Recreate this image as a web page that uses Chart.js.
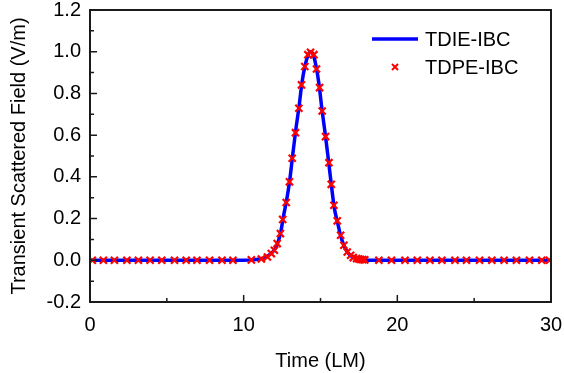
<!DOCTYPE html>
<html>
<head>
<meta charset="utf-8">
<script src="https://cdn.jsdelivr.net/npm/chart.js@4/dist/chart.umd.min.js"></script>
<style>
  html, body { margin: 0; padding: 0; background: #fff; }
  #wrap { width: 564px; height: 373px; position: relative; }
</style>
</head>
<body>
<div id="wrap"><canvas id="myChart"></canvas></div>
<script>
// Datos
const seriesNames = ["TDIE-IBC", "TDPE-IBC"];

// TDIE-IBC (linea continua)
const lineTime = [0, 10.0, 10.6, 11.0, 11.4, 11.8, 12.0, 12.2, 12.4, 12.6, 12.8, 13.0, 13.2, 13.4, 13.6, 13.8,
  14.0, 14.2, 14.35, 14.5, 14.7, 14.9, 15.1, 15.3, 15.5, 15.7, 15.9, 16.1, 16.3, 16.5, 16.7, 16.9,
  17.2, 17.6, 18.0, 30];
const lineField = [0, 0, 0.002, 0.006, 0.014, 0.034, 0.05, 0.08, 0.13, 0.215, 0.29, 0.385, 0.51, 0.63, 0.735, 0.855,
  0.935, 0.985, 1.0, 0.99, 0.935, 0.845, 0.72, 0.61, 0.49, 0.365, 0.25, 0.185, 0.12, 0.075, 0.045, 0.027,
  0.012, 0.004, 0, 0];

// TDPE-IBC (marcadores x)
const markTime = [0.15, 0.87, 1.59, 2.4, 3.15, 3.91, 4.67, 5.5, 6.26, 6.96, 7.78, 8.59, 9.3, 10.5, 11.15,
  11.55, 11.8, 12.0, 12.18, 12.39, 12.54, 12.77, 12.98, 13.16, 13.37, 13.59, 13.76, 13.98, 14.18, 14.35,
  14.57, 14.74, 14.94, 15.11, 15.33, 15.55, 15.7, 15.87, 16.09, 16.31, 16.52, 16.74, 16.96, 17.13, 17.35,
  17.5, 17.62, 17.75, 17.88, 18.8, 19.62, 20.5, 21.3, 22.12, 22.9, 23.75, 24.5, 25.35, 26.15, 26.95,
  27.75, 28.6, 29.4, 29.9];
const markField = [0, 0, 0, 0, 0, 0, 0, 0, 0, 0, 0, 0, 0, 0.002, 0.006,
  0.016, 0.032, 0.048, 0.08, 0.128, 0.196, 0.277, 0.376, 0.489, 0.612, 0.729, 0.841, 0.929, 0.986, 0.997,
  0.986, 0.917, 0.828, 0.716, 0.593, 0.468, 0.364, 0.264, 0.189, 0.12, 0.072, 0.04, 0.024, 0.013, 0.008,
  0.006, 0.004, 0.003, 0.002, 0, 0, 0, 0, 0, 0, 0, 0, 0, 0, 0,
  0, 0, 0, 0];

// Marcas de los ejes
const xTicks = [0, 10, 20, 30];
const xMinor = [5, 15, 25];
const yTicks = [-0.2, 0, 0.2, 0.4, 0.6, 0.8, 1.0, 1.2];
const yMinor = [-0.1, 0.1, 0.3, 0.5, 0.7, 0.9, 1.1];

const FONT = "'Liberation Sans', Arial, sans-serif";
const AXIS = '#1a1a1a';

function toPoints(xs, ys) {
  return xs.map((x, i) => ({ x: x, y: ys[i] }));
}

// Marco y marcas hacia dentro
const framePlugin = {
  id: 'frame',
  afterDraw(chart) {
    const { ctx, chartArea: a, scales } = chart;
    ctx.save();
    ctx.strokeStyle = AXIS;
    ctx.lineWidth = 2;
    ctx.strokeRect(a.left, a.top, a.right - a.left, a.bottom - a.top);
    ctx.lineWidth = 1.5;
    ctx.beginPath();
    xTicks.forEach(v => {
      const px = scales.x.getPixelForValue(v);
      ctx.moveTo(px, a.bottom); ctx.lineTo(px, a.bottom - 7);
    });
    xMinor.forEach(v => {
      const px = scales.x.getPixelForValue(v);
      ctx.moveTo(px, a.bottom); ctx.lineTo(px, a.bottom - 4);
    });
    yTicks.forEach(v => {
      const py = scales.y.getPixelForValue(v);
      ctx.moveTo(a.left, py); ctx.lineTo(a.left + 7, py);
    });
    yMinor.forEach(v => {
      const py = scales.y.getPixelForValue(v);
      ctx.moveTo(a.left, py); ctx.lineTo(a.left + 4, py);
    });
    ctx.stroke();

    // Leyenda
    const ds = chart.data.datasets;
    ctx.font = '20px ' + FONT;
    ctx.textBaseline = 'middle';
    ctx.fillStyle = '#000';
    ctx.strokeStyle = ds[1].borderColor;
    ctx.lineWidth = 3.5;
    ctx.beginPath();
    ctx.moveTo(372, 39); ctx.lineTo(418, 39);
    ctx.stroke();
    ctx.fillText(ds[1].label, 425, 40);
    ctx.strokeStyle = ds[0].borderColor;
    ctx.lineWidth = 2;
    ctx.beginPath();
    ctx.moveTo(392, 64); ctx.lineTo(398, 70);
    ctx.moveTo(398, 64); ctx.lineTo(392, 70);
    ctx.stroke();
    ctx.fillText(ds[0].label, 425, 68);
    ctx.restore();
  }
};

const ctx = document.getElementById('myChart');
const chart = new Chart(ctx, {
  type: 'scatter',
  data: {
    datasets: [
      {
        label: seriesNames[1],
        data: toPoints(markTime, markField),
        showLine: false,
        pointStyle: 'crossRot',
        pointRadius: 5,
        pointBorderWidth: 2.2,
        borderColor: '#ff0000',
        backgroundColor: '#ff0000',
        order: 0
      },
      {
        label: seriesNames[0],
        data: toPoints(lineTime, lineField),
        showLine: true,
        borderColor: '#0000ff',
        borderWidth: 3.5,
        pointRadius: 0,
        tension: 0.3,
        cubicInterpolationMode: 'monotone',
        order: 1
      }
    ]
  },
  options: {
    responsive: true,
    maintainAspectRatio: false,
    animation: false,
    layout: { padding: { top: 10, right: 13, left: 7, bottom: 0 } },
    plugins: { legend: { display: false }, tooltip: { enabled: false } },
    scales: {
      x: {
        type: 'linear',
        min: 0, max: 30,
        afterBuildTicks(scale) { scale.ticks = xTicks.map(v => ({ value: v })); },
        afterFit(scale) { scale.height = 71; scale.paddingLeft = 0; scale.paddingRight = 0; },
        grid: { display: false, drawTicks: false },
        border: { display: false },
        ticks: { color: '#000', padding: 11, font: { size: 20, family: FONT } },
        title: { display: true, text: 'Time (LM)', color: '#000', padding: { top: 1, bottom: 0 },
                 font: { size: 20, family: FONT } }
      },
      y: {
        type: 'linear',
        min: -0.2, max: 1.2,
        afterBuildTicks(scale) { scale.ticks = yTicks.map(v => ({ value: v })); },
        afterFit(scale) { scale.width = 83; scale.paddingTop = 0; scale.paddingBottom = 0; },
        grid: { display: false, drawTicks: false },
        border: { display: false },
        ticks: { color: '#000', padding: 9, font: { size: 20, family: FONT },
                 callback: v => v.toFixed(1) },
        title: { display: true, text: 'Transient Scattered Field (V/m)', color: '#000',
                 padding: { top: 0, bottom: 4 }, font: { size: 20, family: FONT } }
      }
    }
  },
  plugins: [framePlugin]
});
</script>
</body>
</html>
